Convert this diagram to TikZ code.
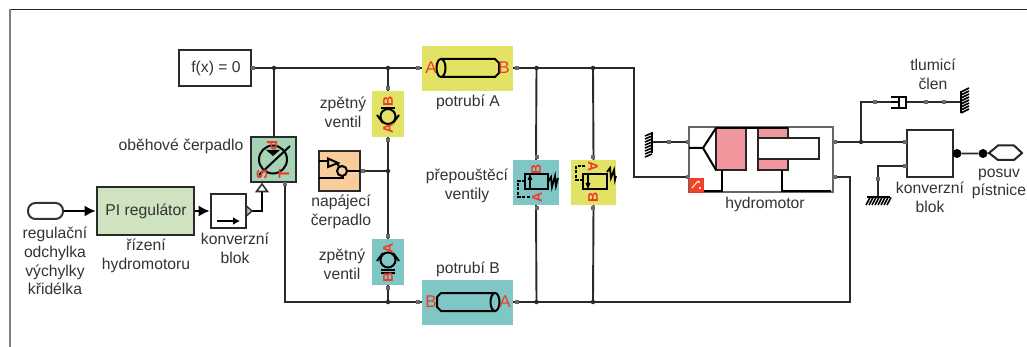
\documentclass[tikz,border=0pt]{standalone}
\usepackage{fontspec}
\setmainfont{Liberation Sans}
\usetikzlibrary{arrows.meta,calc}
\definecolor{ink}{HTML}{2A2A2A}
\definecolor{txt}{HTML}{333333}
\definecolor{redl}{HTML}{EE3A2C}
\definecolor{yel}{HTML}{E2E264}
\definecolor{teal}{HTML}{7FC7C5}
\definecolor{grn}{HTML}{CFE3C0}
\definecolor{pump}{HTML}{A5D3B5}
\definecolor{ora}{HTML}{F9CC9B}
\definecolor{pinkc}{HTML}{F0979E}
\tikzset{
  x=1pt,y=-1pt,
  wire/.style={draw=ink,line width=1.9pt},
  fat wire/.style={draw=black,line width=2.6pt},
  lbl/.style={text=txt,font=\fontsize{15.7}{18.6}\selectfont,align=center,inner sep=0pt},
  blockb/.style={draw=ink,line width=2.6pt,inner sep=0pt,anchor=center,rectangle},
  tint/.style={fill=#1,inner sep=0pt,rectangle,draw=none},
  port/.style={fill=ink!70,minimum size=4pt,inner sep=0pt,rectangle},
  jdot/.style={fill=ink,circle,minimum size=4.5pt,inner sep=0pt},
  red tag/.style={text=redl,font=\fontsize{14}{14}\bfseries\selectfont,inner sep=0pt},
  big tag/.style={text=redl,font=\fontsize{17}{17}\selectfont,inner sep=0pt},
  sym/.style={draw=black,line width=2pt},
}
\newcommand{\boxat}[6]{% name,style,x1,y1,x2,y2
  \node[#2,minimum width={(#5)*1pt-(#3)*1pt},minimum height={(#6)*1pt-(#4)*1pt}] (#1) at ({((#3)+(#5))/2},{((#4)+(#6))/2}) {};}
\begin{document}
\begin{tikzpicture}
\useasboundingbox (0,0) rectangle (1027,347);
\fill[white] (0,0) rectangle (1027,347);
% frame
\coordinate (fA) at (10,9.5); \coordinate (fB) at (1027,9.5); \coordinate (fC) at (10,347);
\draw[black!85,line width=1.2pt] (fA) -- (fB);
\draw[gray,line width=1.8pt] (fA) -- (fC);

% tinted blocks
\boxat{pipeA}{tint=yel}{422}{46}{513}{91}
\boxat{pipeB}{tint=teal}{422}{280}{513}{325}
\boxat{chkT}{tint=yel}{372}{91}{404}{137}
\boxat{chkB}{tint=teal}{372}{239}{404}{285}
\boxat{relT}{tint=teal}{513}{160}{559}{205}
\boxat{relY}{tint=yel}{571}{160}{616}{205}

% coordinates for corners and junctions
\coordinate (jF) at (274,68);
\coordinate (jV) at (388,68);
\coordinate (jC) at (388,171);
\coordinate (jVb) at (388,302);
\coordinate (jP) at (285,302);
\coordinate (jA1) at (536.5,68);
\coordinate (jA2) at (593,68);
\coordinate (jB1) at (536.5,302);
\coordinate (jB2) at (593,302);
\coordinate (cA) at (634,68);
\coordinate (cA2) at (634,177);
\coordinate (cB) at (850,302);
\coordinate (cB2) at (850,177);
\coordinate (jR) at (861,142);
\coordinate (cD) at (861,102);
\coordinate (cG) at (878,166);
\coordinate (gG) at (878,197);
\coordinate (gD) at (962,102);
\coordinate (gH) at (652,142);

% blocks
\boxat{fx}{blockb,fill=white}{179}{50}{251}{86}
\boxat{pi}{blockb,fill=grn}{97}{187}{194}{235}
\boxat{conv}{blockb,fill=white}{211}{194}{246}{228}
\boxat{pumpb}{blockb,fill=pump}{251}{137}{296}{182}
\boxat{feed}{blockb,fill=ora}{319}{151}{360}{191}
\boxat{convr}{blockb,fill=white}{907}{130}{953}{177}
\boxat{hyd}{draw=gray!80!black,line width=1.8pt,fill=white,inner sep=0pt}{689}{127}{833}{192}
\node[draw=black!80,line width=2pt,fill=white,rounded corners=7.5pt,minimum width=35pt,minimum height=16pt,inner sep=0pt] (src) at (45.5,211) {};
\coordinate (hexL) at (989,153);
\path[fill=white,draw=black!85,line width=2pt] (hexL) -- (998,145.5) -- (1014,145.5) -- (1022,153) -- (1014,160) -- (998,160) -- cycle;

% wires
\draw[wire] (fx.east |- jF) -- (pipeA.west |- jF);
\draw[wire] (jF) -- (jF |- pumpb.north);
\draw[wire] (pipeA.east |- cA) -- (cA) -- (cA2) -- (hyd.west |- cA2);
\draw[wire] (jV) -- (chkT.north);
\draw[wire] (chkT.south) -- (chkB.north);
\draw[wire] (chkB.south) -- (jVb);
\draw[wire] (feed.east |- jC) -- (jC);
\draw[wire] (jP |- pumpb.south) -- (jP) -- (pipeB.west |- jP);
\draw[wire] (pipeB.east |- jP) -- (cB) -- (cB2) -- (hyd.east |- cB2);
\draw[wire] (jA1) -- (relT.north);
\draw[wire] (relT.south) -- (jB1);
\draw[wire] (jA2) -- (relY.north);
\draw[wire] (relY.south) -- (jB2);
\draw[wire] (gH) -- (hyd.west |- gH);
\draw[wire] (hyd.east |- jR) -- (convr.west |- jR);
\coordinate (dmpL) at (891,102);
\coordinate (dmpR) at (906,102);
\draw[wire] (jR) -- (cD) -- (dmpL);
\draw[wire] (dmpR) -- (gD);
\draw[wire] (convr.west |- cG) -- (cG) -- (gG);

% control arrows
\draw[fat wire,-{Latex[length=11pt,width=11pt]}] (src.east) -- (pi.west |- src);
\draw[fat wire,-{Latex[length=11pt,width=11pt]}] (pi.east |- src) -- (conv.west |- src);
\coordinate (ctlU) at (262,211);
\coordinate (ctlT) at (262,191);
\draw[fat wire] (conv.east |- ctlU) -- (ctlU) -- (ctlT);
\path[fill=white,draw=black!80,line width=1.6pt] (262,184) -- (267.5,191.5) -- (256.5,191.5) -- cycle;
\path[fill=gray!50,draw=black!80,line width=1.4pt] (246.5,206) -- (252,211) -- (246.5,216) -- cycle;
\draw[line width=2.4pt,black,-{Latex[length=7pt,width=8pt]}] (217,221) -- (240,221);

% junctions
\foreach \n in {jF,jV,jC,jVb,jA1,jA2,jB1,jB2,jR}{\node[jdot] (d\n) at (\n) {};}

% ports
\foreach \i/\px/\py in {a/253/68,b/418/68,c/517/68,d/388/88,e/388/140,f/388/236,g/388/288,h/418/302,i/517/302,
 j/536.5/157,k/536.5/208,l/593/157,m/593/208,n/669/142,o/688/142,p/688/177,q/835/142,r/835/177,
 s/875/102,t/926/102,u/944/102,v/905/142,w/905/166,x/878/179,y/363/171,z/285/184}{
 \node[port] (pt\i) at (\px,\py) {};}

% pipes
\path[draw=black,line width=2pt,fill=yel] (441,59) -- (495,59) -- (499,63) -- (499,73) -- (495,77) -- (441,77) -- cycle;
\draw[black,line width=2pt,fill=yel] (441,68) ellipse[x radius=4.5pt,y radius=9pt];
\path[draw=black,line width=2pt,fill=teal] (495,293) -- (441,293) -- (437,297) -- (437,307) -- (441,311) -- (495,311) -- cycle;
\draw[black,line width=2pt,fill=teal] (495,302) ellipse[x radius=4.5pt,y radius=9pt];
\node[big tag] (ptA1) at (431,68) {A};
\node[big tag] (ptA2) at (504,68) {B};
\node[big tag] (ptB1) at (431,302) {B};
\node[big tag] (ptB2) at (505,302) {A};

% check valves
\draw[sym] (388,116.5) circle[radius=7.5pt];
\draw[sym] (377,115) -- (383,123); \draw[sym] (399,115) -- (393,123);
\draw[sym] (381,108) -- (395,108);
\draw[sym] (388,260) circle[radius=7.5pt];
\draw[sym] (377,261) -- (383,253); \draw[sym] (399,261) -- (393,253);
\draw[sym] (381,270) -- (395,270); \draw[sym] (381,273) -- (395,273);
\node[red tag,rotate=90] (tB1) at (388,101) {B};
\node[red tag,rotate=90] (tA1) at (388,128) {A};
\node[red tag,rotate=90] (tA2) at (388,248) {A};
\node[red tag,rotate=90] (tB2) at (388,277) {B};

% feed pump
\draw[sym] (319,161) -- (328,161);
\draw[sym] (328,158.5) -- (338,163) -- (328,167) -- cycle;
\draw[sym] (337,164) -- (340,167);
\draw[sym] (342,171) circle[radius=5pt];
\draw[sym] (319,178) -- (343,178) -- (343,176);
\draw[sym] (347,171) -- (360,171);

% variable pump
\draw[sym] (273,159.5) circle[radius=14pt];
\draw[sym] (259,175) -- (290,146);
\fill[black] (266,150) -- (280,150) -- (273,156) -- cycle;
\node[red tag,font=\fontsize{15}{15}\bfseries\selectfont,rotate=-90] (tP) at (272,146) {P};
\node[red tag,font=\fontsize{15}{15}\bfseries\selectfont,rotate=90] (tS) at (262,174) {S};
\node[red tag,font=\fontsize{15}{15}\bfseries\selectfont,rotate=90] (tT) at (284,174) {T};

% relief valves
\draw[sym] (525,174) rectangle (548,189);
\draw[sym] (530,189) -- (530,176); \fill (530,174) -- (532.5,180) -- (527.5,180) -- cycle;
\draw[sym,dash pattern=on 3pt off 1.5pt] (525,181) -- (518,181) -- (518,197) -- (531,197);
\draw[black,line width=1.8pt] (548,182) -- (551,177) -- (552,187) -- (555,176) -- (556,186) -- (558,178);
\node[red tag,rotate=90] (tRd) at (536,169) {B};
\node[red tag,rotate=90] (tRa) at (537,197) {A};
\draw[sym] (583,174) rectangle (607,189);
\draw[sym] (588,174) -- (588,187); \fill (588,189) -- (590.5,183) -- (585.5,183) -- cycle;
\draw[sym,dash pattern=on 3pt off 1.5pt] (585,166) -- (576,166) -- (576,180) -- (583,180);
\draw[black,line width=1.8pt] (607,172) -- (610,168) -- (611,178) -- (614,170) -- (615,180) -- (616,176);
\node[red tag,rotate=90] (tRb) at (593,197) {B};
\node[red tag,rotate=-90] (tRc) at (593,167) {A};

% hydromotor
\path[fill=pinkc,draw=black!85,line width=2pt] (716,128) rectangle (746,170);
\path[fill=pinkc,draw=black!85,line width=2pt] (758,128) rectangle (788,170);
\path[fill=white,draw=black!85,line width=2pt] (758,138) rectangle (819,159);
\draw[line width=2.4pt,black] (716,128) -- (788,128);
\draw[sym] (689,148) -- (703,148) -- (716,128) (703,148) -- (716,170);
\draw[sym] (722,170) -- (722,191) -- (700,191);
\draw[sym] (782,170) -- (782,191) -- (831,191);
\node[draw=redl,fill=redl!85!orange,minimum size=14pt,inner sep=0pt] (hic) at (696,185) {};
\draw[white,line width=1pt] (692,188) -- (698,181);
\fill[white] (700,188) circle[radius=1.2pt] (699,182) circle[radius=1.2pt];

% damper
\draw[sym] (891,97) -- (906,97) -- (906,108) -- (891,108);
\draw[sym] (899,97) -- (899,108);
\draw[sym] (891,102) -- (899,102);

% grounds
\draw[line width=2pt,black] (652,132) -- (652,153);
\foreach \yy in {133,136,...,154} \draw[line width=1.6pt,black] (652,\yy) -- (645,\yy+3);
\draw[line width=2pt,black] (961,91) -- (961,113);
\foreach \yy in {92,95,...,113} \draw[line width=1.6pt,black] (961,\yy) -- (969,\yy-4);
\draw[line width=2pt,black] (867,197.5) -- (890,197.5);
\foreach \xx in {870,873,...,891} \draw[line width=1.6pt,black] (\xx,197.5) -- (\xx-4,205);

% output
\node[circle,fill=black,minimum size=9pt,inner sep=0pt] (ou1) at (957,153.5) {};
\node[circle,fill=black,minimum size=9pt,inner sep=0pt] (ou2) at (983,153.5) {};
\draw[wire] (ou1) -- (ou2) -- (hexL);

% texts
\node[lbl] (tfx) at (216,68) {f(x) = 0};
\node[lbl] (tpi) at (146,211) {PI regulátor};
\node[lbl] (t1) at (55,261) {regulační\\odchylka\\výchylky\\křidélka};
\node[lbl] (t2) at (146,256) {řízení\\hydromotoru};
\node[lbl] (t3) at (235,248) {konverzní\\blok};
\node[lbl] (t4) at (181,146) {oběhové čerpadlo};
\node[lbl] (t5) at (343,112) {zpětný\\ventil};
\node[lbl] (t6) at (468,102) {potrubí A};
\node[lbl] (t7) at (341,212) {napájecí\\čerpadlo};
\node[lbl] (t8) at (342,264.5) {zpětný\\ventil};
\node[lbl] (t9) at (468,269) {potrubí B};
\node[lbl] (t10) at (467,186) {přepouštěcí\\ventily};
\node[lbl] (t11) at (765,204) {hydromotor};
\node[lbl] (t12) at (933,74.5) {tlumicí\\člen};
\node[lbl] (t13) at (930,197.5) {konverzní\\blok};
\node[lbl] (t14) at (999,184) {posuv\\pístnice};
\end{tikzpicture}
\end{document}
